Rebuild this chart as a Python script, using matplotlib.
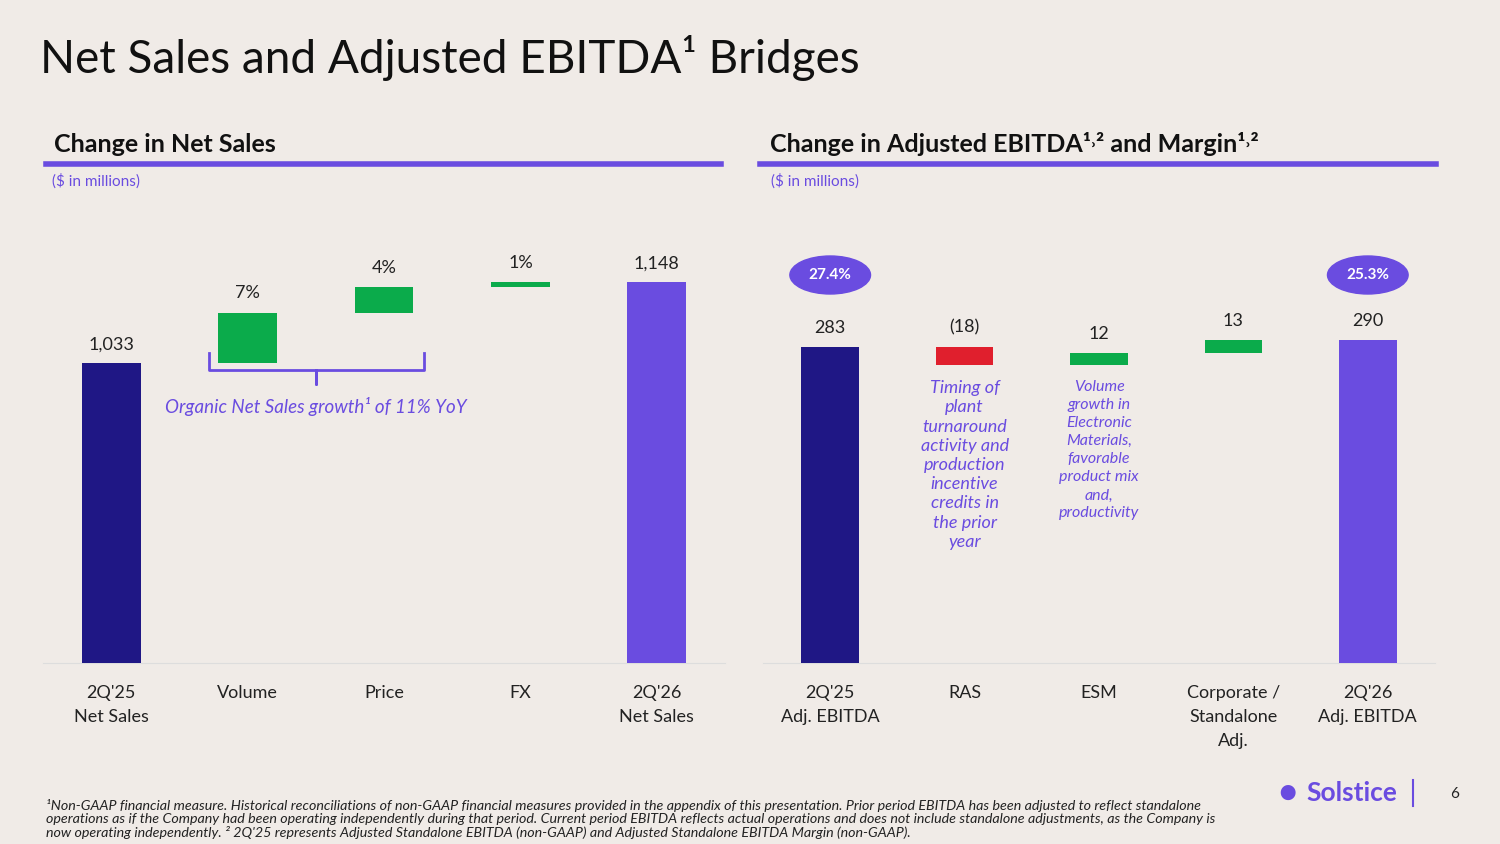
import matplotlib
matplotlib.use("Agg")
import matplotlib.pyplot as plt
from matplotlib.patches import Ellipse

plt.rcParams['font.family'] = ['Lato', 'DejaVu Sans']

ns_cats = ["2Q'25\nNet Sales", "Volume", "Price", "FX", "2Q'26\nNet Sales"]
ns_vals = [1033, 72, 36, 7, 1148]
ns_labels = ["1,033", "7%", "4%", "1%", "1,148"]

eb_cats = ["2Q'25\nAdj. EBITDA", "RAS", "ESM", "Corporate /\nStandalone\nAdj.", "2Q'26\nAdj. EBITDA"]
eb_vals = [283, -18, 12, 13, 290]
eb_labels = ["283", "(18)", "12", "13", "290"]
margins = ["27.4%", "25.3%"]

BG = "#f0ebe7"; NAVY = "#1f1785"; PURPLE = "#6a4ce0"; GREEN = "#0bab4b"; RED = "#e01f2d"; TXT = "#222222"
W, H = 1500, 844
fig = plt.figure(figsize=(15, 8.44), dpi=100, facecolor=BG)

def ax_at(x0, x1, ytop, ybot):
    return fig.add_axes([x0 / W, 1 - ybot / H, (x1 - x0) / W, (ybot - ytop) / H])

def waterfall(ax, vals, labels, cats, bottom, top):
    ax.set_facecolor(BG)
    ax.set_xlim(-0.5, len(vals) - 0.5)
    ax.set_ylim(bottom, top)
    run = 0
    for i, v in enumerate(vals):
        if i == 0 or i == len(vals) - 1:
            b0, h = bottom, v - bottom
            col = NAVY if i == 0 else PURPLE
            run = v
            ytxt = v
        else:
            col = GREEN if v > 0 else RED
            b0 = run if v > 0 else run + v
            h = abs(v)
            run += v
            ytxt = b0 + h
        ax.bar(i, h, bottom=b0, width=0.43, color=col, zorder=3)
        ax.annotate(labels[i], (i, ytxt), xytext=(0, 8), textcoords="offset points",
                    ha="center", va="bottom", fontsize=13, color=TXT)
    for s in ["top", "right", "left"]:
        ax.spines[s].set_visible(False)
    ax.spines["bottom"].set_color("#dddddd")
    ax.set_yticks([])
    ax.set_xticks(range(len(cats)))
    ax.set_xticklabels(cats, fontsize=13, color=TXT, linespacing=1.6)
    ax.tick_params(axis="x", length=0, pad=16)

axL = ax_at(43, 725, 200, 663)
waterfall(axL, ns_vals, ns_labels, ns_cats, 607, 1265)
axR = ax_at(763, 1435, 200, 663)
waterfall(axR, eb_vals, eb_labels, eb_cats, -33, 430)

# bracket
bx0, bx1, mid = 0.72, 2.29, 1.5
top_, mid_, tip = 1047, 1023, 1003
axL.plot([bx0, bx0, mid, mid, mid, bx1, bx1], [top_, mid_, mid_, tip, mid_, mid_, top_],
         color=PURPLE, lw=2, zorder=4)
axL.text(mid, 972, "Organic Net Sales growth¹ of 11% YoY", ha="center", va="center",
         fontsize=13.5, color=PURPLE, style="italic")

# margin ellipses
for i, m in zip([0, 4], margins):
    axR.add_patch(Ellipse((i, 355), 0.6, 38, color=PURPLE, zorder=5))
    axR.text(i, 355, m, ha="center", va="center", color="white", fontsize=11, fontweight="bold", zorder=6)

axR.text(1, 250, "Timing of\nplant\nturnaround\nactivity and\nproduction\nincentive\ncredits in\nthe prior\nyear",
         ha="center", va="top", fontsize=13, color=PURPLE, style="italic", linespacing=1.25)
axR.text(2, 250, "Volume\ngrowth in\nElectronic\nMaterials,\nfavorable\nproduct mix\nand,\nproductivity",
         ha="center", va="top", fontsize=11.5, color=PURPLE, style="italic", linespacing=1.37)

# titles
fig.text(40 / W, 1 - 58 / H, "Net Sales and Adjusted EBITDA¹ Bridges", fontsize=33, color="#111111", va="center")
fig.text(54 / W, 1 - 144 / H, "Change in Net Sales", fontsize=18, fontweight="bold", color="#111111", va="center")
fig.text(770 / W, 1 - 144 / H, "Change in Adjusted EBITDA¹˒² and Margin¹˒²", fontsize=18, fontweight="bold", color="#111111", va="center")
for x0, x1 in [(46, 721), (760, 1436)]:
    fig.add_artist(plt.Line2D([x0 / W, x1 / W], [1 - 164 / H] * 2, color=PURPLE, lw=4))
fig.text(52 / W, 1 - 181 / H, "($ in millions)", fontsize=11, color=PURPLE, va="center")
fig.text(771 / W, 1 - 181 / H, "($ in millions)", fontsize=11, color=PURPLE, va="center")

foot = ("¹Non-GAAP financial measure. Historical reconciliations of non-GAAP financial measures provided in the appendix of this presentation. Prior period EBITDA has been adjusted to reflect standalone\n"
        "operations as if the Company had been operating independently during that period. Current period EBITDA reflects actual operations and does not include standalone adjustments, as the Company is\n"
        "now operating independently. ² 2Q'25 represents Adjusted Standalone EBITDA (non-GAAP) and Adjusted Standalone EBITDA Margin (non-GAAP).")
fig.text(46 / W, 1 - 819 / H, foot, fontsize=10.3, style="italic", color="#222222", va="center", linespacing=1.05)

fig.text(1278 / W, 1 - 793 / H, "●", fontsize=22, color=PURPLE, va="center")
fig.text(1306 / W, 1 - 793 / H, "Solstice", fontsize=19, fontweight="bold", color=PURPLE, va="center")
fig.add_artist(plt.Line2D([1413 / W] * 2, [1 - 780 / H, 1 - 806 / H], color=PURPLE, lw=1.5))
fig.text(1455 / W, 1 - 794 / H, "6", fontsize=11, color="#222222", va="center", ha="center")

fig.savefig("out.png", dpi=100, facecolor=BG)
